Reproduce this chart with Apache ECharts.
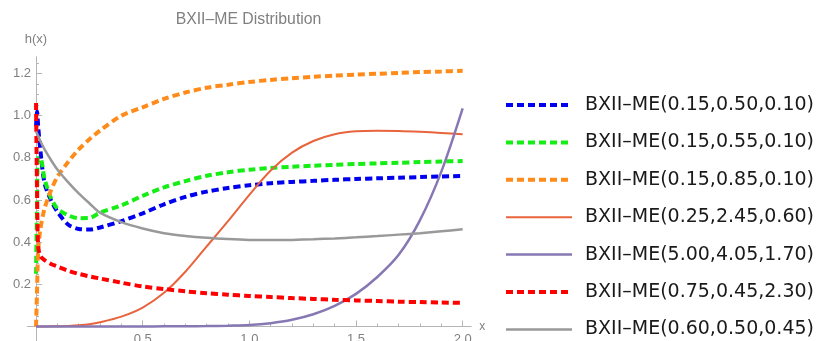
<!DOCTYPE html>
<html>
<head>
<meta charset="utf-8">
<script src="https://cdn.jsdelivr.net/npm/echarts@6/dist/echarts.min.js"></script>
<style>
html,body{margin:0;padding:0;overflow:hidden;background:#fff;}
#c{width:817px;height:360px;}
</style>
</head>
<body>
<div id="c"></div>
<script>
// shared x grid
var xs = [0, 0.005, 0.01, 0.02, 0.04, 0.07, 0.1, 0.15, 0.2, 0.25, 0.3, 0.4, 0.5, 0.6, 0.7, 0.8, 0.9, 1.0, 1.1, 1.2, 1.3, 1.4, 1.5, 1.6, 1.7, 1.8, 1.9, 2.0];

var names = [
  'BXII–ME(0.15,0.50,0.10)',
  'BXII–ME(0.15,0.55,0.10)',
  'BXII–ME(0.15,0.85,0.10)',
  'BXII–ME(0.25,2.45,0.60)',
  'BXII–ME(5.00,4.05,1.70)',
  'BXII–ME(0.75,0.45,2.30)',
  'BXII–ME(0.60,0.50,0.45)'
];

var blueY   = [0.95, 1.02, 0.95, 0.84, 0.68, 0.60, 0.545, 0.484, 0.463, 0.46, 0.47, 0.50, 0.537, 0.58, 0.615, 0.64, 0.657, 0.67, 0.68, 0.686, 0.691, 0.696, 0.70, 0.703, 0.706, 0.709, 0.712, 0.714];
var greenY  = [0.25, 0.60, 0.80, 0.80, 0.70, 0.61, 0.56, 0.528, 0.514, 0.515, 0.54, 0.575, 0.62, 0.66, 0.69, 0.715, 0.732, 0.744, 0.752, 0.758, 0.763, 0.767, 0.771, 0.774, 0.777, 0.78, 0.783, 0.785];
var orangeY = [0, 0.18, 0.36, 0.46, 0.56, 0.645, 0.71, 0.78, 0.84, 0.888, 0.93, 1.0, 1.04, 1.08, 1.11, 1.133, 1.147, 1.16, 1.17, 1.178, 1.185, 1.19, 1.195, 1.199, 1.203, 1.207, 1.21, 1.213];
var tomatoY = [0, 0, 0, 0, 0, 0.001, 0.001, 0.003, 0.006, 0.011, 0.02, 0.047, 0.09, 0.16, 0.26, 0.38, 0.50, 0.625, 0.74, 0.825, 0.88, 0.912, 0.926, 0.929, 0.928, 0.924, 0.918, 0.912];
var purpleY = [0, 0, 0, 0, 0, 0, 0, 0, 0, 0, 0, 0, 0, 0.001, 0.001, 0.002, 0.004, 0.007, 0.016, 0.032, 0.058, 0.098, 0.155, 0.235, 0.34, 0.505, 0.735, 1.035];
var redY    = [1.06, 0.62, 0.38, 0.335, 0.315, 0.297, 0.285, 0.265, 0.25, 0.238, 0.228, 0.208, 0.19, 0.178, 0.167, 0.158, 0.151, 0.145, 0.14, 0.135, 0.131, 0.127, 0.124, 0.121, 0.118, 0.116, 0.114, 0.112];
var grayY   = [0.925, 0.915, 0.905, 0.88, 0.84, 0.79, 0.745, 0.685, 0.632, 0.585, 0.54, 0.495, 0.465, 0.443, 0.43, 0.421, 0.415, 0.411, 0.41, 0.411, 0.414, 0.418, 0.423, 0.429, 0.436, 0.443, 0.452, 0.461];

var xMajor = [0, 0.5, 1.0, 1.5, 2.0];
var xMinor = [0.1, 0.2, 0.3, 0.4, 0.6, 0.7, 0.8, 0.9, 1.1, 1.2, 1.3, 1.4, 1.6, 1.7, 1.8, 1.9];
var xLabels = [0.5, 1.0, 1.5, 2.0];
var yMajor = [0.2, 0.4, 0.6, 0.8, 1.0, 1.2];
var yMinor = [0.05, 0.1, 0.15, 0.25, 0.3, 0.35, 0.45, 0.5, 0.55, 0.65, 0.7, 0.75, 0.85, 0.9, 0.95, 1.05, 1.1, 1.15, 1.25];

function pairs(ys) { return xs.map(function (x, i) { return [x, ys[i]]; }); }

var dash = [7, 4];
var styles = [
  { color: '#0000ee', width: 4, type: dash },
  { color: '#14ee14', width: 4, type: dash },
  { color: '#ff8c1a', width: 4, type: dash },
  { color: '#e8643c', width: 2, type: 'solid' },
  { color: '#8778b3', width: 2.5, type: 'solid' },
  { color: '#ff0000', width: 4, type: dash },
  { color: '#999999', width: 2.5, type: 'solid' }
];
var allY = [blueY, greenY, orangeY, tomatoY, purpleY, redY, grayY];

var axisColor = '#b5b5b5';
var labelColor = '#808080';
var font = 'Liberation Sans';
var legendFont = 'DejaVu Sans';

var chart = echarts.init(document.getElementById('c'), null, { renderer: 'canvas' });
chart.setOption({
  animation: false,
  textStyle: { fontFamily: font },
  title: {
    text: 'BXII–ME Distribution',
    left: 248.5, top: 12, textAlign: 'center', padding: 0,
    textStyle: { fontSize: 15.8, fontWeight: 'normal', color: '#808080', fontFamily: font }
  },
  grid: { left: 27.5, right: 345.8, top: 56.7, bottom: 16.6, containLabel: false },
  legend: {
    orient: 'vertical',
    left: 504, top: 95, padding: 0,
    itemWidth: 66, itemHeight: 20, itemGap: 17.4,
    itemStyle: { opacity: 0 },
    textStyle: { fontSize: 19, lineHeight: 20, color: '#1a1a1a', fontFamily: legendFont, padding: [0, 0, 0, 8] },
    data: names.map(function (n, i) {
      return { name: n, lineStyle: { color: styles[i].color, width: styles[i].width, type: styles[i].type, cap: 'butt' } };
    })
  },
  xAxis: [{
    type: 'value', min: -0.04, max: 2.04, position: 'bottom', offset: -16.9,
    name: 'x', nameLocation: 'end', nameGap: 8,
    nameTextStyle: { fontSize: 12, color: labelColor },
    axisLine: { show: true, onZero: false, lineStyle: { color: axisColor, width: 1 } },
    axisTick: { show: true, inside: true, length: 6, customValues: xMajor, lineStyle: { color: axisColor } },
    axisLabel: { show: true, customValues: xLabels, margin: 6, fontSize: 13, color: labelColor,
      formatter: function (v) { return v.toFixed(1); } },
    splitLine: { show: false }
  }, {
    type: 'value', min: -0.04, max: 2.04, position: 'bottom', offset: -16.9,
    axisLine: { show: false, onZero: false },
    axisTick: { show: true, inside: true, length: 3, customValues: xMinor, lineStyle: { color: axisColor } },
    axisLabel: { show: false },
    splitLine: { show: false }
  }],
  yAxis: [{
    type: 'value', min: -0.08, max: 1.28, position: 'left', offset: -8.5,
    name: 'h(x)', nameLocation: 'end', nameGap: 11,
    nameTextStyle: { fontSize: 13, color: labelColor },
    axisLine: { show: true, onZero: false, lineStyle: { color: axisColor, width: 1 } },
    axisTick: { show: true, inside: true, length: 6, customValues: yMajor, lineStyle: { color: axisColor } },
    axisLabel: { show: true, customValues: yMajor, margin: 6, fontSize: 13, color: labelColor,
      align: 'right', padding: [0, -1, 0, 0],
      formatter: function (v) { return v.toFixed(1); } },
    splitLine: { show: false }
  }, {
    type: 'value', min: -0.08, max: 1.28, position: 'left', offset: -8.5,
    axisLine: { show: false, onZero: false },
    axisTick: { show: true, inside: true, length: 3, customValues: yMinor, lineStyle: { color: axisColor } },
    axisLabel: { show: false },
    splitLine: { show: false }
  }],
  series: allY.map(function (ys, i) {
    return {
      name: names[i],
      type: 'line',
      xAxisIndex: 0, yAxisIndex: 0,
      data: pairs(ys),
      showSymbol: false,
      symbol: 'none',
      smooth: 0.3,
      lineStyle: { color: styles[i].color, width: styles[i].width, type: styles[i].type, cap: 'butt' },
      itemStyle: { color: styles[i].color },
      emphasis: { disabled: true }
    };
  })
});
</script>
</body>
</html>
